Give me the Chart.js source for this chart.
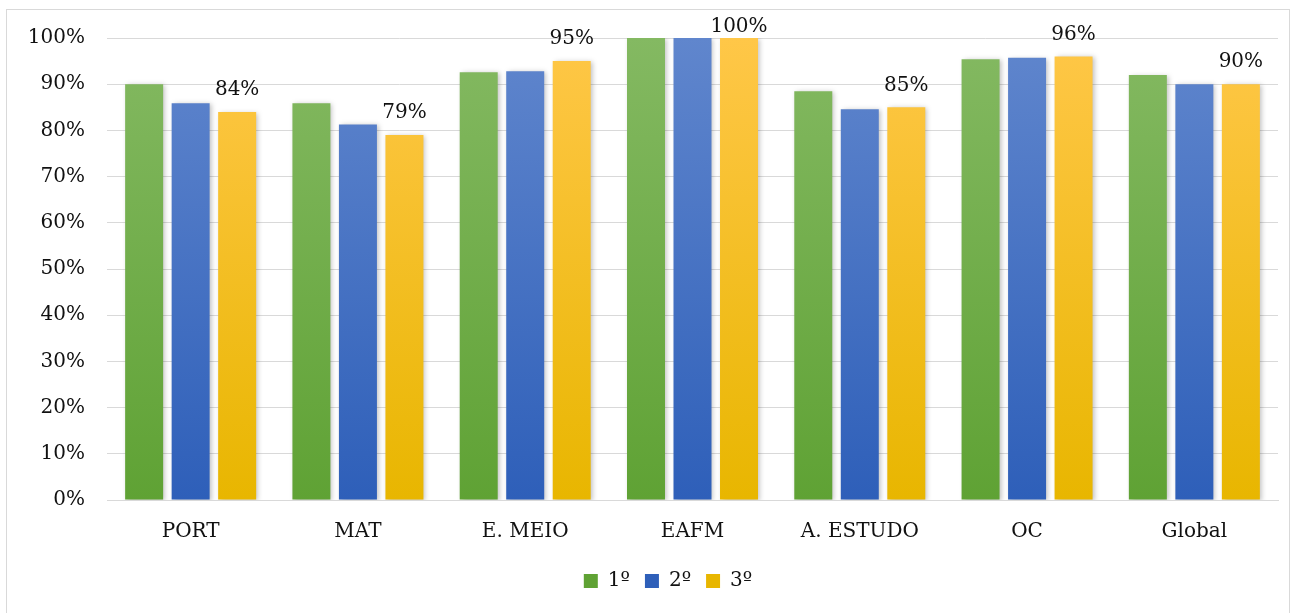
<!DOCTYPE html>
<html>
<head>
<meta charset="utf-8">
<script src="https://cdn.jsdelivr.net/npm/chart.js@4"></script>
<style>
    html, body { margin: 0; padding: 0; background: #fff; }
    #frame { position: absolute; left: 6px; top: 9px; width: 1284px; height: 606px; border: 1px solid #d9d9d9; box-sizing: border-box; }
    #wrap { position: absolute; left: 0; top: 0; width: 1292px; height: 613px; }
</style>
</head>
<body>
<div id="frame"></div>
<div id="wrap"><canvas id="chart" width="1292" height="613"></canvas></div>
<script>
// Chart data
const categories = ['PORT', 'MAT', 'E. MEIO', 'EAFM', 'A. ESTUDO', 'OC', 'Global'];
const seriesNames = ['1º', '2º', '3º'];
const first = [90.0, 85.9, 92.6, 100, 88.5, 95.4, 92.0];
const second = [85.9, 81.3, 92.8, 100, 84.6, 95.7, 90.0];
const third = [84, 79, 95, 100, 85, 96, 90];
const yTicks = [0, 10, 20, 30, 40, 50, 60, 70, 80, 90, 100];

const FONT = { family: '"DejaVu Serif", serif', size: 20 };

// top/bottom colours of each series gradient
const palette = [
    ['#84b962', '#5fa234'],
    ['#6086cd', '#2e5fb9'],
    ['#ffc748', '#e8b600']
];

function gradientFor(i) {
    return function (context) {
        const area = context.chart.chartArea;
        if (!area) return palette[i][1];
        const g = context.chart.ctx.createLinearGradient(0, area.top, 0, area.bottom);
        g.addColorStop(0, palette[i][0]);
        g.addColorStop(1, palette[i][1]);
        return g;
    };
}

// soft shadow behind bars
const barShadow = {
    id: 'barShadow',
    beforeDatasetsDraw(chart) {
        const ctx = chart.ctx;
        ctx.save();
        ctx.shadowColor = 'rgba(0,0,0,0.25)';
        ctx.shadowBlur = 5;
        ctx.shadowOffsetX = 2;
        ctx.shadowOffsetY = 1;
    },
    afterDatasetsDraw(chart) {
        chart.ctx.restore();
    }
};

// value labels on the third series only, kept inside the chart top
const valueLabels = {
    id: 'valueLabels',
    afterDatasetsDraw(chart) {
        const ctx = chart.ctx;
        const meta = chart.getDatasetMeta(2);
        const topLimit = chart.chartArea.top - 1;
        ctx.save();
        ctx.font = FONT.size + 'px ' + FONT.family;
        ctx.fillStyle = '#111';
        ctx.textAlign = 'center';
        ctx.textBaseline = 'bottom';
        meta.data.forEach(function (bar, idx) {
            const y = Math.max(bar.y - 12, topLimit);
            ctx.fillText(third[idx] + '%', bar.x, y);
        });
        ctx.restore();
    }
};

// nudge the legend a little to the right, like the original
const legendShift = {
    id: 'legendShift',
    afterLayout(chart) {
        chart.legend.left += 19;
        chart.legend.right += 19;
    }
};

new Chart(document.getElementById('chart'), {
    type: 'bar',
    data: {
        labels: categories,
        datasets: [first, second, third].map(function (values, i) {
            return {
                label: seriesNames[i],
                data: values,
                backgroundColor: gradientFor(i),
                borderWidth: 0,
                categoryPercentage: 0.834,
                barPercentage: 0.817
            };
        })
    },
    options: {
        responsive: false,
        animation: false,
        layout: { padding: { left: 20, right: 14, top: 38, bottom: 12 } },
        plugins: {
            tooltip: { enabled: false },
            legend: {
                position: 'bottom',
                labels: {
                    font: FONT,
                    color: '#111',
                    boxWidth: 14,
                    boxHeight: 14,
                    padding: 15,
                    generateLabels(chart) {
                        return seriesNames.map(function (name, i) {
                            return {
                                text: name,
                                fillStyle: palette[i][1],
                                strokeStyle: palette[i][1],
                                lineWidth: 0,
                                datasetIndex: i,
                                fontColor: '#111'
                            };
                        });
                    }
                }
            }
        },
        scales: {
            x: {
                grid: { display: false },
                border: { display: true, color: '#d9d9d9', width: 1 },
                ticks: { font: FONT, color: '#111', padding: 12 }
            },
            y: {
                min: 0,
                max: 100,
                afterFit(scale) { scale.width = 87; },
                afterBuildTicks(scale) { scale.ticks = yTicks.map(function (v) { return { value: v }; }); },
                grid: { color: '#d9d9d9', drawTicks: false },
                border: { display: false },
                ticks: {
                    font: FONT,
                    color: '#111',
                    padding: 22,
                    callback: function (v) { return v + '%'; }
                }
            }
        }
    },
    plugins: [barShadow, valueLabels, legendShift]
});
</script>
</body>
</html>
